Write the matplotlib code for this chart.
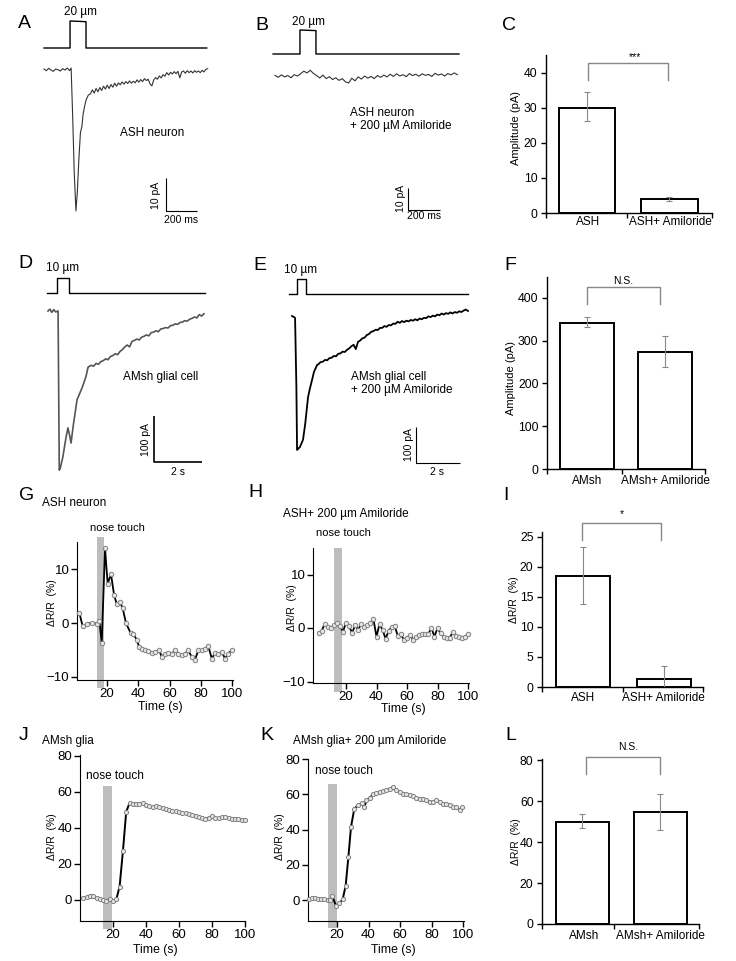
import numpy as np
import matplotlib
matplotlib.use('Agg')
import matplotlib.pyplot as plt
from matplotlib.patches import Rectangle

plt.rcParams['font.family'] = ['Liberation Sans', 'DejaVu Sans']

W, H = 736, 961
fig = plt.figure(figsize=(W / 100, H / 100), dpi=100)

# ------------------------------------------------------------------ data
# A: ASH neuron current (ms, pA)
A_head_t = [0, 15, 30, 45, 60, 75, 90, 105, 120, 135, 150, 165,
            175, 185, 195, 206, 215, 225, 235, 245, 252, 262, 272, 286]
A_head_v = [0.3, -0.2, 0.5, 0.0, -0.4, 0.3, 0.1, -0.3, 0.4, 0.0, 0.6, -0.2,
            0.6, -14, -31, -42.7, -37, -27, -19, -17, -13.5, -11, -9, -7.6]
A_tail_t0, A_tail_dt = 300, 12
A_tail_v = [-7.2, -6.0, -7.0, -5.6, -6.6, -5.3, -6.2, -4.9, -5.8, -4.6,
            -5.6, -4.4, -5.2, -4.0, -4.9, -3.9, -4.5, -3.6, -4.3, -3.5,
            -4.1, -3.3, -4.0, -3.4, -3.9, -3.0, -3.7, -2.9, -3.5, -2.6,
            -3.2, -2.8, -4.2, -4.8, -3.0, -2.3, -2.8, -1.8, -2.4, -1.4,
            -1.9, -0.8, -1.5, -0.7, -1.2, -0.5, -1.1, -0.4, -2.4, -0.6,
            -0.3, -1.0, -0.2, -0.8, -0.3, -0.9, -0.2, -0.7, -0.3, -0.8,
            -0.1, -0.6, 0.2, 0.4]
A_stim_t = [0, 168, 168, 271, 271, 1050]
A_stim_d = [0, 0, 20, 19.5, 0, 0]

# B: ASH neuron + amiloride (ms, pA)
B_t0, B_dt = 0, 20
B_v = [0.3, -0.6, 0.5, -0.4, 0.2, -0.8, 0.6, 0.0,
       1.0, 2.2, 1.4, 2.6, 1.2,
       0.2, -0.9, 0.4, -1.2, -0.3, -1.6, -0.8, -2.0, -1.2, -2.6, -3.2,
       -1.0, -2.2, -0.4, -1.4, 0.0, -1.0, -0.2, -1.2, 0.2, -0.6, 0.4, -0.4,
       0.8, -0.2, 1.0, 0.0, 0.6, -0.3, 1.1, 0.2, 0.8, -0.1, 1.0, 0.3, 0.7,
       -0.2, 1.2, 0.4, 0.9, 0.0, 1.1, 0.5, 1.4, 0.6]
B_stim_t = [-12, 156, 156, 256, 256, 1150]
B_stim_d = [0, 0, 20, 19.5, 0, 0]

# D: AMsh glial cell current (s, pA)
D_head_t = [0, 0.08, 0.16, 0.24, 0.32, 0.42, 0.47, 0.52, 0.62, 0.75, 0.83,
            0.9, 0.96, 1.05, 1.21, 1.42, 1.58, 1.67]
D_head_v = [0, 4, -3, 3, -2, 0, -346, -340, -317, -275, -254,
            -270, -287, -250, -193, -167, -143, -122]
D_tail_t0, D_tail_dt = 1.7, 0.1
D_tail_v = [-121, -118, -120, -114, -116, -110, -108, -104, -106, -99,
            -97, -93, -95, -88, -84, -78, -74, -78, -66, -64,
            -61, -63, -57, -55, -52, -54, -47, -46, -43, -45,
            -39, -38, -36, -37, -32, -31, -28, -29, -25, -24,
            -21, -22, -18, -16, -13, -15, -8, -11, -6]
D_stim_t = [-0.04, 0.375, 0.375, 0.875, 0.875, 6.54]
D_stim_d = [0, 0, 10, 10, 0, 0]

# E: AMsh glial cell + amiloride (s, pA)
E_head_t = [0, 0.05, 0.1, 0.14, 0.2, 0.23, 0.36, 0.5, 0.6, 0.73, 0.82,
            0.91, 1.0, 1.14]
E_head_v = [0, -2, -3, -5.6, -200, -372, -364, -344, -300, -225, -200,
            -178, -155, -136]
E_tail_t0, E_tail_dt = 1.2, 0.1
E_tail_v = [-134, -128, -127, -122, -123, -117, -116, -111,
            -112, -105, -104, -99, -100, -94, -90, -84, -80, -92,
            -72, -68, -62, -60, -53, -50, -44, -42, -38, -39,
            -33, -33, -28, -30, -25, -26, -21, -22, -16, -19,
            -14, -17, -13, -15, -11, -13, -9, -12, -7, -9,
            -5, -6, -1, -3, 1, -1, 4, 2, 7, 4,
            8, 6, 10, 7, 11, 9, 13, 11, 15, 18, 14]
E_stim_t = [-0.14, 0.23, 0.23, 0.64, 0.64, 8.0]
E_stim_d = [0, 0, 10, 10, 0, 0]

# bar charts
C_cats = ['ASH', 'ASH+ Amiloride']
C_mean = [30.1, 3.9]
C_lo = [26.3, 3.4]
C_hi = [34.4, 4.5]

F_cats = ['AMsh', 'AMsh+ Amiloride']
F_mean = [341, 273]
F_lo = [331, 238]
F_hi = [355, 311]

I_cats = ['ASH', 'ASH+ Amiloride']
I_mean = [18.5, 1.3]
I_lo = [13.8, -0.9]
I_hi = [23.3, 3.5]

L_cats = ['AMsh', 'AMsh+ Amiloride']
L_mean = [49.6, 54.6]
L_lo = [46.7, 46.0]
L_hi = [53.5, 63.5]

# calcium imaging traces (s, %)
G_t = [2.4, 4.5, 7.5, 10.3, 13.5, 15.2, 16.7, 18.8, 20.5, 22.6, 24.6, 26.3,
       28.4, 30.1, 32.2, 35.2, 36.9, 39.0, 40.7, 42.2, 44.4, 46.5, 48.6,
       50.7, 53.5, 55.0, 57.1, 59.3, 61.4, 63.5, 65.6, 67.8, 69.9, 72.0,
       74.2, 76.3, 78.4, 80.6, 82.7, 84.8, 87.0, 89.1, 91.2, 93.4, 95.5,
       97.6, 99.8]
G_v = [1.9, -0.6, -0.1, 0.0, -0.1, 0.4, -3.7, 13.9, 7.3, 9.1, 5.2, 3.5,
       3.9, 2.7, 0.0, -1.9, -2.0, -3.1, -4.5, -4.8, -5.0, -5.2, -5.6,
       -5.4, -5.1, -6.3, -5.7, -5.6, -5.7, -5.1, -5.7, -6.0, -5.7, -5.1,
       -6.3, -6.8, -5.1, -5.0, -4.8, -4.3, -6.6, -5.6, -5.7, -5.4, -6.6,
       -5.7, -5.0]

H_t = [2, 4, 6, 8, 10, 12, 14, 16, 18, 20, 22, 24, 26, 28, 30, 32, 34, 36,
       38, 40, 42, 44, 46, 48, 50, 52, 54, 56, 58, 60, 62, 64, 66, 68, 70,
       72, 74, 76, 78, 80, 82, 84, 86, 88, 90, 92, 94, 96, 98, 100]
H_v = [-1.0, -0.5, 0.7, 0.2, 0.0, 0.5, 0.9, 0.4, -0.7, 1.0, 0.3, -0.9, 0.5,
       -0.3, 0.8, 0.2, 0.5, 1.0, 1.6, -1.6, 0.8, -0.4, -2.0, -0.5, 0.2,
       0.3, -1.5, -1.2, -2.2, -1.8, -1.3, -2.2, -1.6, -1.3, -1.2, -1.1,
       -1.1, 0.0, -1.6, 0.0, -1.0, -1.6, -1.8, -1.8, -0.8, -1.5, -1.6,
       -1.9, -1.6, -1.2]

J_t = [2, 4, 6, 8, 10, 12, 14, 16, 18, 20, 22, 24, 26, 28, 30, 32, 34, 36,
       38, 40, 42, 44, 46, 48, 50, 52, 54, 56, 58, 60, 62, 64, 66, 68, 70,
       72, 74, 76, 78, 80, 82, 84, 86, 88, 90, 92, 94, 96, 98, 100]
J_v = [1.0, 1.5, 2.5, 2.3, 1.2, 0.6, 0.1, -0.3, 0.6, -0.8, 0.3, 7.5, 27,
       49, 53.8, 53.5, 53.6, 53.2, 54.0, 53.0, 52.0, 51.5, 52.5, 51.8,
       51.0, 50.5, 50.2, 49.5, 49.2, 48.8, 48.5, 48.2, 47.8, 47.5, 46.8,
       46.2, 45.5, 45.2, 45.8, 46.5, 45.8, 45.3, 46.0, 46.0, 45.5, 45.0,
       45.2, 44.8, 44.6, 44.3]

K_t = [2, 4, 6, 8, 10, 12, 14, 15.5, 17, 19.4, 21.5, 23.6, 25.5, 27.2, 28.9,
       31, 33.5, 35.6, 37.3, 38.7, 40.8, 42.9, 45, 47.1, 49.2, 51.4, 53.5,
       55.6, 57.7, 59.8, 61.9, 64.1, 66.2, 68.3, 70.4, 72.5, 74.6, 76.7,
       78.8, 80.9, 83, 85.2, 87.3, 89.4, 91.5, 93.6, 95.8, 97.9, 99.6]
K_v = [0.5, 1.0, 0.9, 0.7, 0.5, 0.3, 0.0, 0.2, 2.3, -3.4, -1.8, 0.4, 8.1,
       24.2, 41.5, 51.9, 53.8, 55.0, 52.5, 56.6, 58.1, 60.0, 60.8, 61.3,
       61.9, 62.3, 63.2, 64.2, 62.3, 61.3, 60.4, 60.0, 59.4, 58.9, 58.1,
       57.5, 57.5, 56.6, 55.7, 55.7, 56.6, 55.7, 54.7, 54.7, 53.8, 52.8,
       52.5, 51.3, 52.5]

# touch windows (s)
G_touch = (13.7, 18.2)
H_touch = (12.1, 17.4)
J_touch = (14.0, 19.4)
K_touch = (14.3, 20.0)

# ------------------------------------------------------------------ helpers
def px_axes(l, t, r, b):
    return fig.add_axes([l / W, 1 - b / H, (r - l) / W, (b - t) / H])


def ftext(x, y, s, **kw):
    kw.setdefault('ha', 'center')
    kw.setdefault('va', 'center')
    fig.text(x / W, 1 - y / H, s, **kw)


def trace_axes(l, t, r, b, x0, sx, y0, sy):
    ax = px_axes(l, t, r, b)
    ax.set_xlim((l - x0) / sx, (r - x0) / sx)
    ax.set_ylim((y0 - b) / sy, (y0 - t) / sy)
    ax.axis('off')
    return ax


def join(head_t, head_v, t0, dt, tail_v):
    tt = list(head_t) + list(t0 + dt * np.arange(len(tail_v)))
    vv = list(head_v) + list(tail_v)
    return tt, vv


def scale_bar(ax, x, y, dx, dy, lw=1.0):
    ax.plot([x, x, x + dx], [y + dy, y, y], color='black', lw=lw,
            solid_capstyle='butt', clip_on=False)


LET = 14
TXT = 8.5

# ------------------------------------------------------------------ A
ax = trace_axes(35, 5, 215, 235, 44, 0.155, 70, 3.3)
t, v = join(A_head_t, A_head_v, A_tail_t0, A_tail_dt, A_tail_v)
ax.plot(t, v, color='#333333', lw=0.8)
scale_bar(ax, 787, -42.7, 200, 10, lw=0.8)
axs = trace_axes(35, 5, 215, 235, 44, 0.155, 48, 1.35)
axs.plot(A_stim_t, A_stim_d, color='black', lw=1.0)
ftext(24, 24, 'A', fontsize=LET)
ftext(81, 12, '20 µm', fontsize=TXT)
ftext(120, 133, 'ASH neuron', fontsize=TXT, ha='left')
ftext(156, 195, '10 pA', fontsize=7.5, rotation=90)
ftext(181, 220, '200 ms', fontsize=7.5)

# ------------------------------------------------------------------ B
ax = trace_axes(265, 5, 475, 235, 275, 0.16, 76, 2.2)
ax.plot(B_t0 + B_dt * np.arange(len(B_v)), B_v, color='#333333', lw=0.8)
scale_bar(ax, 831, -60.9, 200, 10, lw=0.8)
axs = trace_axes(265, 5, 475, 235, 275, 0.16, 54, 1.2)
axs.plot(B_stim_t, B_stim_d, color='black', lw=1.0)
ftext(262, 25, 'B', fontsize=LET)
ftext(309, 22, '20 µm', fontsize=TXT)
ftext(350, 113, 'ASH neuron', fontsize=TXT, ha='left')
ftext(350, 126, '+ 200 µM Amiloride', fontsize=TXT, ha='left')
ftext(401, 198, '10 pA', fontsize=7.5, rotation=90)
ftext(424, 216, '200 ms', fontsize=7.5)

# ------------------------------------------------------------------ D
ax = trace_axes(40, 255, 215, 480, 48, 24, 311, 0.46)
t, v = join(D_head_t, D_head_v, D_tail_t0, D_tail_dt, D_tail_v)
ax.plot(t, v, color='#555555', lw=1.2)
scale_bar(ax, 4.42, -328, 2, 100, lw=1.2)
axs = trace_axes(40, 255, 215, 480, 48, 24, 293, 1.5)
axs.plot(D_stim_t, D_stim_d, color='black', lw=1.0)
ftext(25, 263, 'D', fontsize=LET)
ftext(63, 268, '10 µm', fontsize=TXT)
ftext(123, 377, 'AMsh glial cell', fontsize=TXT, ha='left')
ftext(146, 440, '100 pA', fontsize=7.5, rotation=90)
ftext(178, 472, '2 s', fontsize=7.5)

# ------------------------------------------------------------------ E
ax = trace_axes(280, 255, 475, 480, 292, 22, 316, 0.36)
t, v = join(E_head_t, E_head_v, E_tail_t0, E_tail_dt, E_tail_v)
ax.plot(t, v, color='black', lw=1.3)
scale_bar(ax, 5.64, -408, 2, 100, lw=0.8)
axs = trace_axes(280, 255, 475, 480, 292, 22, 294, 1.5)
axs.plot(E_stim_t, E_stim_d, color='black', lw=1.0)
ftext(260, 265, 'E', fontsize=LET)
ftext(301, 270, '10 µm', fontsize=TXT)
ftext(351, 377, 'AMsh glial cell', fontsize=TXT, ha='left')
ftext(351, 390, '+ 200 µM Amiloride', fontsize=TXT, ha='left')
ftext(409, 445, '100 pA', fontsize=7.5, rotation=90)
ftext(437, 472, '2 s', fontsize=7.5)


# ------------------------------------------------------------------ bars
def bar_panel(rect, xl, ylim, yticks, cats, mean, lo, hi, width,
              mid_tick, bracket, mark, mark_xy, cat_y, cat_x):
    ax = px_axes(*rect)
    ax.set_xlim(xl)
    ax.set_ylim(ylim)
    mean = np.array(mean, float)
    lo = np.array(lo, float)
    hi = np.array(hi, float)
    ax.bar([0, 1], mean, width=width, color='white', edgecolor='black',
           lw=1.4, zorder=2)
    ax.errorbar([0, 1], mean, yerr=[mean - lo, hi - mean], fmt='none',
                ecolor='#888888', elinewidth=0.8, capsize=2.5,
                capthick=0.8, zorder=3)
    for s in ['top', 'right']:
        ax.spines[s].set_visible(False)
    for s in ['left', 'bottom']:
        ax.spines[s].set_linewidth(1.0)
    ax.set_yticks(yticks)
    ax.set_xticks([xl[0], mid_tick, xl[1]])
    ax.set_xticklabels([])
    ax.tick_params(axis='both', direction='out', length=3.6, width=1.0,
                   labelsize=8.8, pad=2.5)
    x0, x1, ytop, yleg = bracket
    ax.plot([x0, x0, x1, x1], [yleg, ytop, ytop, yleg], color='#888888',
            lw=1.0, clip_on=False)
    ftext(mark_xy[0], mark_xy[1], mark, fontsize=7.5)
    ftext(cat_x[0], cat_y, cats[0], fontsize=TXT)
    ftext(cat_x[1], cat_y, cats[1], fontsize=TXT)
    return ax


bar_panel((546, 55, 712, 213), (-0.5, 1.52), (0, 45.1), [0, 10, 20, 30, 40],
          C_cats, C_mean, C_lo, C_hi, 0.69, 0.49, (0.01, 0.99, 42.9, 38.0),
          '***', (635, 57), 222, (588, 670))
ftext(509, 26, 'C', fontsize=LET)
ftext(516, 128, 'Amplitude (pA)', fontsize=8, rotation=90)

bar_panel((547, 277, 705, 469), (-0.52, 1.52), (0, 449),
          [0, 100, 200, 300, 400], F_cats, F_mean, F_lo, F_hi, 0.7, 0.45,
          (-0.01, 0.94, 425, 385), 'N.S.', (623, 281), 481, (587, 665))
ftext(510, 265, 'F', fontsize=LET)
ftext(511, 378, 'Amplitude (pA)', fontsize=8, rotation=90)

bar_panel((542, 532, 703, 687), (-0.51, 1.48), (0, 25.8),
          [0, 5, 10, 15, 20, 25], I_cats, I_mean, I_lo, I_hi, 0.667, 0.49,
          (-0.01, 0.96, 27.3, 24.5), '*', (622, 514), 698, (583, 663))
ftext(506, 495, 'I', fontsize=LET)
ftext(514, 600, 'ΔR/R  (%)', fontsize=7.5, rotation=90)

bar_panel((542, 759, 699, 924), (-0.52, 1.5), (0, 80.5),
          [0, 20, 40, 60, 80], L_cats, L_mean, L_lo, L_hi, 0.68, 0.4,
          (0.05, 1.0, 81.4, 73), 'N.S.', (628, 747), 936, (584, 660))
ftext(511, 735, 'L', fontsize=LET)
ftext(516, 842, 'ΔR/R  (%)', fontsize=7.5, rotation=90)


# ------------------------------------------------------------------ imaging
def img_panel(l, t, r, b, x0, sx, y0, sy, tt, vv, touch, band_px, yticks,
              lw, ms):
    ax = px_axes(l, t, r, b)
    ax.set_xlim((l - x0) / sx, (r - x0) / sx)
    ax.set_ylim((y0 - b) / sy, (y0 - t) / sy)
    ytop = (y0 - band_px[0]) / sy
    ybot = (y0 - band_px[1]) / sy
    ax.add_patch(Rectangle((touch[0], ybot), touch[1] - touch[0],
                           ytop - ybot, color='#bdbdbd', lw=0,
                           clip_on=False, zorder=1))
    ax.plot(tt, vv, color='black', lw=lw, marker='o', ms=ms,
            mfc='#e6e6e6', mec='#808080', mew=0.7, zorder=3,
            clip_on=False)
    for s in ['top', 'right']:
        ax.spines[s].set_visible(False)
    ax.set_xticks([20, 40, 60, 80, 100])
    ax.set_yticks(yticks)
    ax.tick_params(axis='both', direction='out', length=4, width=1.0,
                   labelsize=9.5, pad=1.5)
    return ax


img_panel(77, 542, 233, 680, 75.6, 1.565, 623, 5.38, G_t, G_v, G_touch,
          (537, 688), [-10, 0, 10], 1.3, 3.2)
ftext(27, 496, 'G', fontsize=LET)
ftext(42, 503, 'ASH neuron', fontsize=TXT, ha='left')
ftext(117, 528, 'nose touch', fontsize=8)
ftext(52, 603, 'ΔR/R  (%)', fontsize=7.5, rotation=90)
ftext(160, 707, 'Time (s)', fontsize=8.8)

img_panel(313, 548, 469, 683, 315.5, 1.525, 628, 5.35, H_t, H_v, H_touch,
          (548, 692), [-10, 0, 10], 1.3, 3.2)
ftext(255, 493, 'H', fontsize=LET)
ftext(283, 514, 'ASH+ 200 µm Amiloride', fontsize=TXT, ha='left')
ftext(343, 533, 'nose touch', fontsize=8)
ftext(292, 608, 'ΔR/R  (%)', fontsize=7.5, rotation=90)
ftext(403, 709, 'Time (s)', fontsize=8.8)

img_panel(80, 755, 245, 921, 80, 1.65, 900, 1.8, J_t, J_v, J_touch,
          (786, 929), [0, 20, 40, 60, 80], 1.4, 3.0)
ftext(24, 735, 'J', fontsize=LET)
ftext(42, 741, 'AMsh glia', fontsize=TXT, ha='left')
ftext(115, 776, 'nose touch', fontsize=8.5)
ftext(52, 837, 'ΔR/R  (%)', fontsize=7.5, rotation=90)
ftext(155, 950, 'Time (s)', fontsize=8.8)

img_panel(308, 759, 464, 921, 305.5, 1.575, 900, 1.765, K_t, K_v, K_touch,
          (784, 928), [0, 20, 40, 60, 80], 1.4, 3.0)
ftext(267, 735, 'K', fontsize=LET)
ftext(293, 741, 'AMsh glia+ 200 µm Amiloride', fontsize=TXT, ha='left')
ftext(344, 771, 'nose touch', fontsize=8.5)
ftext(280, 837, 'ΔR/R  (%)', fontsize=7.5, rotation=90)
ftext(393, 950, 'Time (s)', fontsize=8.8)

fig.savefig('out.png', dpi=100)
